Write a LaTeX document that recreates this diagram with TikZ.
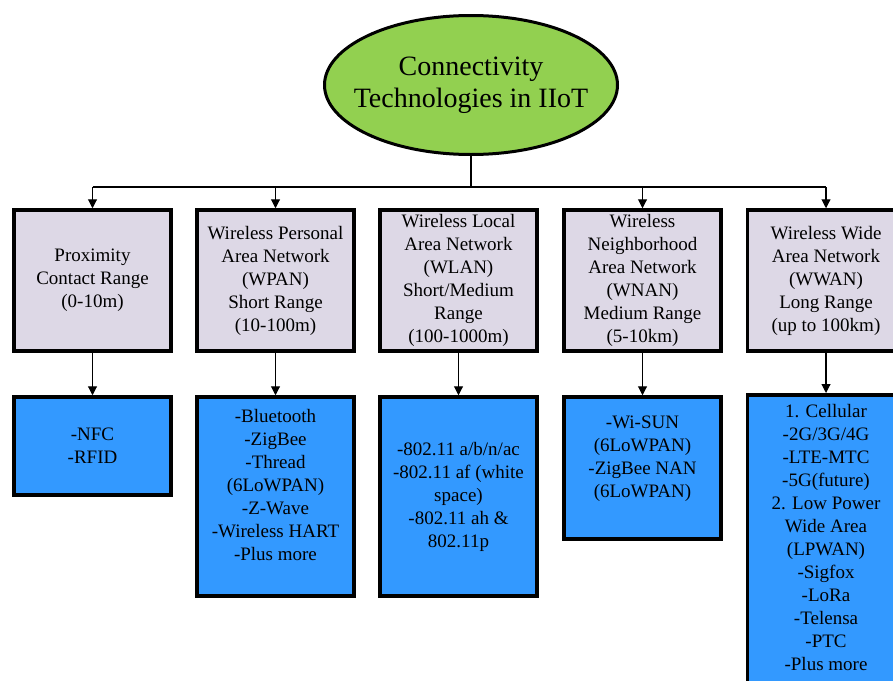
\documentclass[tikz,border=0pt]{standalone}
\usepackage{fontspec}
\setmainfont{Liberation Serif}
\usetikzlibrary{shapes.geometric,arrows.meta}
\definecolor{lav}{RGB}{221,216,230}
\definecolor{bluebox}{RGB}{51,153,255}
\definecolor{greenell}{RGB}{146,208,80}
\tikzset{
  topbox/.style={draw=black, line width=3.5pt, fill=lav, minimum width=157pt, minimum height=141pt, align=center, inner sep=0pt, font=\fontsize{19}{23}\selectfont},
  botbox/.style={draw=black, line width=3.5pt, fill=bluebox, minimum width=157pt, align=center, inner sep=0pt, font=\fontsize{19}{23}\selectfont},
  conn/.style={line width=1.1pt},
  arr/.style={conn, -{Triangle[length=9pt,width=9pt]}},
}
\begin{document}
\begin{tikzpicture}[x=1pt,y=1pt]
\useasboundingbox (0,0) rectangle (893,-680);
\clip (0,0) rectangle (893,-680);
\fill[white] (0,0) rectangle (893,-680);

\node[ellipse, draw=black, line width=3pt, fill=greenell, minimum width=293pt, minimum height=139pt, inner sep=0pt] (root) at (471,-85) {};
\node[align=center, inner sep=0pt, font=\fontsize{28}{32}\selectfont] (roottext) at (root.center) {Connectivity\\Technologies in IIoT};

\node[topbox] (t1) at (92.5,-280.5) {Proximity\\Contact Range\\(0-10m)};
\node[topbox] (t2) at (275.5,-280.5) {Wireless Personal\\Area Network\\(WPAN)\\Short Range\\(10-100m)};
\node[topbox] (t3) at (458.5,-280.5) {Wireless Local\\Area Network\\(WLAN)\\Short/Medium\\Range\\(100-1000m)};
\node[topbox] (t4) at (642.5,-280.5) {Wireless\\Neighborhood\\Area Network\\(WNAN)\\Medium Range\\(5-10km)};
\node[topbox] (t5) at (826,-280.5) {Wireless Wide\\Area Network\\(WWAN)\\Long Range\\(up to 100km)};

\node[botbox, minimum height=98pt] (b1) at (92.5,-446) {-NFC\\-RFID};
\node[botbox, minimum height=199pt] (b2) at (275.5,-496.5) {-Bluetooth\\-ZigBee\\-Thread\\(6LoWPAN)\\-Z-Wave\\-Wireless HART\\-Plus more\\\mbox{}};
\node[botbox, minimum height=199pt] (b3) at (458.5,-496.5) {-802.11 a/b/n/ac\\-802.11 af (white\\space)\\-802.11 ah \&\\802.11p};
\node[botbox, minimum height=142pt] (b4) at (642.5,-468) {-Wi-SUN\\(6LoWPAN)\\-ZigBee NAN\\(6LoWPAN)\\\mbox{}};
\node[botbox, anchor=north, inner ysep=10pt, minimum height=320pt, text depth=0pt] (b5) at (826,-393) {1. Cellular\\-2G/3G/4G\\-LTE-MTC\\-5G(future)\\2. Low Power\\Wide Area\\(LPWAN)\\-Sigfox\\-LoRa\\-Telensa\\-PTC\\-Plus more\\\mbox{}\\\mbox{}};

\draw[conn] (root.south) -- ++(0,-31) coordinate (j);
\coordinate (bl) at (t1.north |- j);
\coordinate (br) at (t5.north |- j);
\draw[conn] (bl) -- (br);
\draw[arr] (bl) -- (t1.north);
\draw[arr] (t2.north |- j) -- (t2.north);
\draw[arr] (t4.north |- j) -- (t4.north);
\draw[arr] (br) -- (t5.north);

\draw[arr] (t1.south) -- (b1.north);
\draw[arr] (t2.south) -- (b2.north);
\draw[arr] (t3.south) -- (b3.north);
\draw[arr] (t4.south) -- (b4.north);
\draw[arr] (t5.south) -- (b5.north);
\end{tikzpicture}
\end{document}
